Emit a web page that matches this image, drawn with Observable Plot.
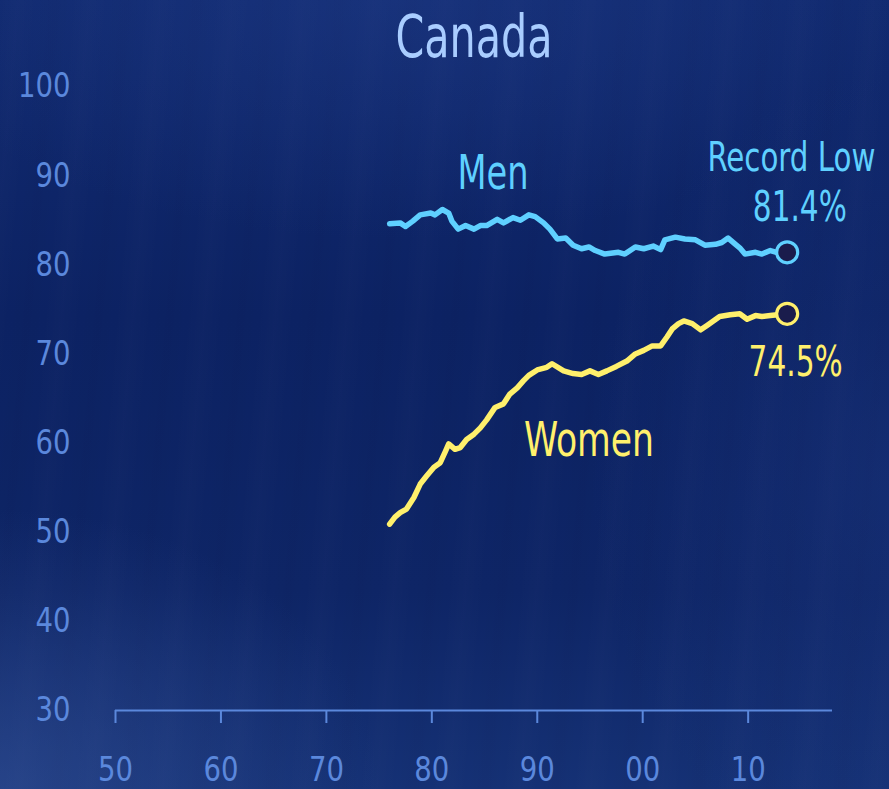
<!DOCTYPE html>
<html>
<head>
<meta charset="utf-8">
<script src="https://cdn.jsdelivr.net/npm/d3@7"></script>
<script src="https://cdn.jsdelivr.net/npm/@observablehq/plot@0.6"></script>
<style>
  html, body { margin: 0; padding: 0; }
  body {
    width: 889px; height: 789px; overflow: hidden;
    background:
      radial-gradient(ellipse 380px 280px at 0% 100%, rgba(60,90,160,0.45), rgba(60,90,160,0) 100%),
      radial-gradient(ellipse 520px 240px at 45% 0%, rgba(40,70,150,0.30), rgba(40,70,150,0) 100%),
      radial-gradient(ellipse 300px 400px at 100% 60%, rgba(40,70,150,0.25), rgba(40,70,150,0) 100%),
      repeating-linear-gradient(95deg, rgba(255,255,255,0.0) 0px, rgba(255,255,255,0.012) 18px, rgba(255,255,255,0.0) 37px, rgba(0,0,0,0.02) 55px, rgba(255,255,255,0) 71px),
      linear-gradient(180deg, #112a70 0%, #0c2263 40%, #0e2566 75%, #153175 100%);
  }
  #chart svg { display: block; }
</style>
</head>
<body>
<div id="chart"></div>
<script>
const title = "Canada";
const yTicks = [30, 40, 50, 60, 70, 80, 90, 100];
const xTicks = [1950, 1960, 1970, 1980, 1990, 2000, 2010];

const menYears = [1976.0, 1977.0, 1977.5, 1978.2, 1978.9, 1979.9, 1980.3, 1981.0, 1981.6, 1981.9, 1982.5, 1983.2, 1984.0, 1984.6, 1985.2, 1986.2, 1986.8, 1987.7, 1988.4, 1989.2, 1989.8, 1990.6, 1991.2, 1991.9, 1992.7, 1993.4, 1994.2, 1994.9, 1995.5, 1996.4, 1997.7, 1998.3, 1999.3, 2000.1, 2001.0, 2001.7, 2002.1, 2003.1, 2004.0, 2005.0, 2005.9, 2006.9, 2007.5, 2008.1, 2008.8, 2009.2, 2009.7, 2010.7, 2011.3, 2012.1, 2012.7, 2013.7];
const menRate = [84.6, 84.7, 84.3, 84.9, 85.6, 85.8, 85.6, 86.2, 85.8, 84.9, 84.0, 84.4, 84.0, 84.4, 84.4, 85.1, 84.7, 85.3, 85.0, 85.6, 85.4, 84.7, 84.0, 82.9, 83.0, 82.2, 81.8, 82.0, 81.6, 81.2, 81.4, 81.2, 82.0, 81.8, 82.1, 81.7, 82.8, 83.1, 82.9, 82.8, 82.2, 82.3, 82.5, 83.0, 82.3, 81.9, 81.2, 81.4, 81.2, 81.6, 81.4, 81.4];

const womenYears = [1976.0, 1976.5, 1977.0, 1977.6, 1978.3, 1978.9, 1979.5, 1980.2, 1980.8, 1981.3, 1981.6, 1982.2, 1982.7, 1983.3, 1984.0, 1984.6, 1985.2, 1986.0, 1986.8, 1987.4, 1988.1, 1988.7, 1989.2, 1990.0, 1990.9, 1991.4, 1992.5, 1993.4, 1994.2, 1995.0, 1995.8, 1996.6, 1997.5, 1998.5, 1999.3, 2000.1, 2000.9, 2001.7, 2002.3, 2002.8, 2003.4, 2003.9, 2004.7, 2005.5, 2006.1, 2006.7, 2007.3, 2008.3, 2009.2, 2009.9, 2010.7, 2011.3, 2012.1, 2013.7];
const womenRate = [50.9, 51.7, 52.2, 52.6, 53.9, 55.4, 56.3, 57.3, 57.8, 59.1, 59.9, 59.3, 59.5, 60.4, 61.0, 61.7, 62.6, 64.0, 64.4, 65.5, 66.2, 67.0, 67.6, 68.2, 68.5, 68.9, 68.1, 67.8, 67.7, 68.1, 67.7, 68.1, 68.6, 69.2, 70.0, 70.4, 70.9, 70.9, 71.9, 72.8, 73.4, 73.7, 73.4, 72.7, 73.2, 73.7, 74.2, 74.4, 74.5, 73.9, 74.3, 74.2, 74.3, 74.5];

const menColor = "#5fd0ff";
const womenColor = "#fff06c";
const axisColor = "#5b88dc";
const font = "'Liberation Sans Narrow', 'DejaVu Sans Condensed', 'Roboto Condensed', Roboto, sans-serif";

const men = menYears.map((x, i) => ({x, y: menRate[i]}));
const women = womenYears.map((x, i) => ({x, y: womenRate[i]}));
const menLast = men[men.length - 1];
const womenLast = women[women.length - 1];
const pct = d => d.y.toFixed(1) + "%";

const chart = Plot.plot({
  width: 889,
  height: 789,
  marginTop: 86,
  marginBottom: 79,
  marginLeft: 115,
  marginRight: 57,
  style: {background: "transparent", fontFamily: font, fontSize: "34px", color: axisColor, overflow: "visible"},
  x: {domain: [1950, 2018]},
  y: {domain: [30, 100]},
  marks: [
    Plot.ruleY([30], {stroke: axisColor, strokeWidth: 2}),
    Plot.axisX({ticks: xTicks, tickSize: 13, tickPadding: 33, stroke: axisColor, strokeWidth: 2, strokeOpacity: 1,
      fill: axisColor, fontSize: 34, label: null, tickFormat: d => String(d % 100).padStart(2, "0")}),
    Plot.axisY({ticks: yTicks, tickSize: 0, tickPadding: 45, fill: axisColor, fontSize: 34, label: null}),
    Plot.line(men, {x: "x", y: "y", stroke: menColor, strokeWidth: 5.5, strokeLinejoin: "round", strokeLinecap: "round"}),
    Plot.line(women, {x: "x", y: "y", stroke: womenColor, strokeWidth: 5.5, strokeLinejoin: "round", strokeLinecap: "round"}),
    Plot.dot([menLast], {x: "x", y: "y", r: 10.5, fill: "#1a1c4c", stroke: menColor, strokeWidth: 3.2}),
    Plot.dot([womenLast], {x: "x", y: "y", r: 10.5, fill: "#1a1c4c", stroke: womenColor, strokeWidth: 3.2}),
    Plot.text([title], {frameAnchor: "top", dy: -71, fill: "#a9cdff", fontSize: 58}),
    Plot.text(["Men"], {x: [1985.8], y: [90.2], fill: menColor, fontSize: 48}),
    Plot.text(["Women"], {x: [1994.9], y: [60.3], fill: womenColor, fontSize: 48}),
    Plot.text(["Record Low"], {x: [2014.1], y: [92.0], fill: menColor, fontSize: 40}),
    Plot.text([menLast], {x: () => 2014.9, y: () => 86.4, text: pct, fill: menColor, fontSize: 42}),
    Plot.text([womenLast], {x: () => 2014.5, y: () => 69.0, text: pct, fill: womenColor, fontSize: 42})
  ]
});

// the original face is a condensed sans: fit texts to their widths in the reference
const fitWidths = new Map([[title, 157], ["Men", 71], ["Women", 130], ["Record Low", 168], [pct(menLast), 94], [pct(womenLast), 94]]);
chart.querySelectorAll("text").forEach(t => {
  const s = t.textContent;
  let w = fitWidths.get(s);
  if (!w && /^\d{2,3}$/.test(s)) w = 17.5 * s.length;
  if (w) {
    t.setAttribute("textLength", w);
    t.setAttribute("lengthAdjust", "spacingAndGlyphs");
  }
});
document.getElementById("chart").appendChild(chart);
</script>
</body>
</html>
